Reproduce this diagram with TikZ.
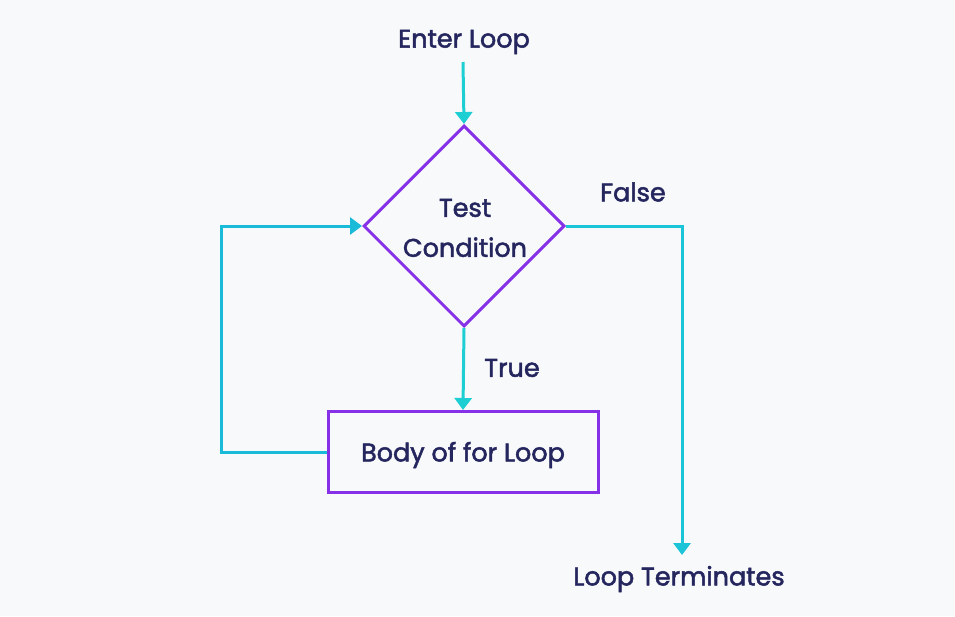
\documentclass[tikz,border=0pt]{standalone}
\usepackage{fontspec}
\setmainfont{Poppins}[UprightFeatures={FakeBold=2}]
\usetikzlibrary{shapes.geometric,arrows.meta}
\definecolor{bgcol}{HTML}{F8F9FB}
\definecolor{flowteal}{HTML}{1DCED2}
\definecolor{flowmid}{HTML}{1BC4D6}
\definecolor{flowblue}{HTML}{1ABAD9}
\definecolor{edge}{HTML}{8630E8}
\definecolor{ink}{HTML}{25265E}
\tikzset{
  lbl/.style={text=ink,font=\fontsize{25.5}{40}\selectfont,inner sep=0pt},
  flowline/.style={draw=flowmid,line width=3pt,
    -{Triangle[width=17pt,length=12pt]}},
  decision/.style={diamond,draw=edge,line width=3pt,fill=none,
    minimum width=201pt,minimum height=201pt,inner sep=0pt,aspect=1},
  process/.style={rectangle,draw=edge,line width=3pt,
    minimum width=270pt,minimum height=81pt,inner sep=0pt},
}
\begin{document}
\begin{tikzpicture}[x=1pt,y=-1pt]
  \fill[bgcol] (0,0) rectangle (955,616);
  \useasboundingbox (0,0) rectangle (955,616);

  % shapes
  \node[decision] (test) at (464,226) {};
  \node[process] (body) at (463,452) {};
  \coordinate (enterfoot) at (463,62);
  \coordinate (termhead) at (682,555);

  % labels
  \node[lbl] (enter) at (464,42) {Enter Loop};
  \node[lbl,align=center] (testlbl) at (465,228) {Test\\Condition};
  \node[lbl] (bodylbl) at (463,455) {Body of for Loop};
  \node[lbl] (true) at (512,368) {True};
  \node[lbl] (false) at (633,192) {False};
  \node[lbl] (term) at (679,579) {Loop Terminates};

  % entry into the condition
  \draw[flowline,draw=flowteal] (enterfoot) -- (test.north);
  % true branch into the loop body
  \draw[flowline,draw=flowteal] (test.south) -- (body.north);
  % return path back to the condition
  \draw[flowline,draw=flowblue] (body.west) -- (221,452) -- (221,226) -- (test.west);
  % false branch out of the loop
  \draw[flowline] (test.east) -- (termhead |- test.east) -- (termhead);
\end{tikzpicture}
\end{document}
